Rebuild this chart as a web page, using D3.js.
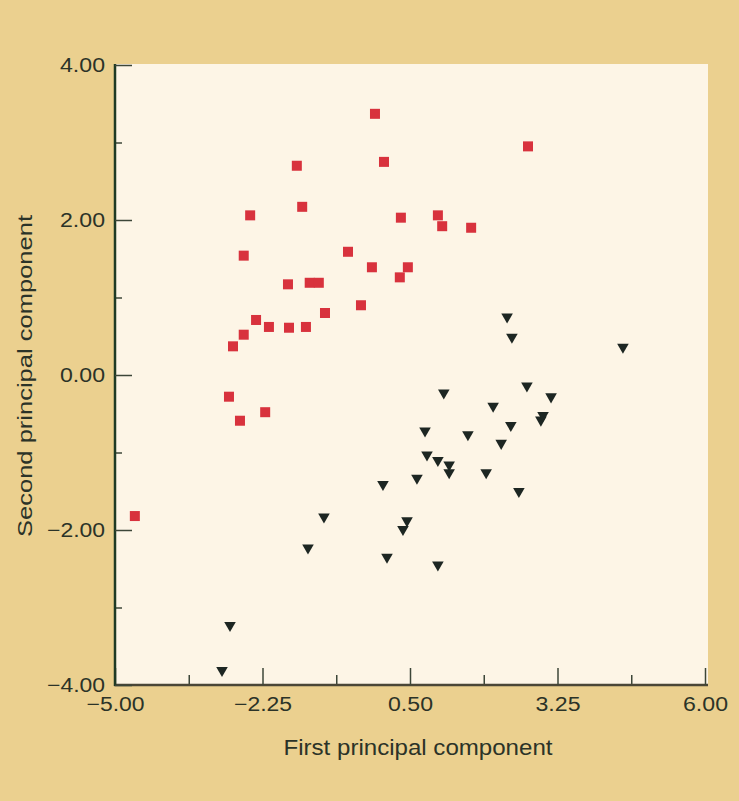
<!DOCTYPE html>
<html>
<head>
<meta charset="utf-8">
<script src="https://cdn.jsdelivr.net/npm/d3@7"></script>
<style>
  body { margin: 0; background: #ebd08f; }
  svg text { font-family: "Liberation Sans", Arial, Helvetica, sans-serif; fill: #2b3328; }
</style>
</head>
<body>
<div id="scatter"></div>
<script>
// Group 1 (red squares)
var squareX = [-4.63, -2.875, -2.80, -2.67, -2.60, -2.60, -2.48, -2.37, -2.20, -2.13,
               -1.775, -1.756, -1.61, -1.51, -1.44, -1.37, -1.20, -1.085, -0.656, -0.414,
               -0.21, -0.153, 0.015, 0.33, 0.31, 0.46, 1.02, 1.10, 1.64, 2.70];
var squareY = [-1.82, -0.28, 0.37, -0.59, 0.52, 1.54, 2.06, 0.71, -0.48, 0.62,
               1.17, 0.61, 2.70, 2.17, 0.62, 1.19, 1.19, 0.80, 1.59, 0.90,
               1.39, 3.37, 2.75, 2.03, 1.26, 1.39, 2.06, 1.92, 1.90, 2.95];

// Group 2 (black triangles)
var triX = [-3.005, -2.856, -1.402, -1.104, -0.004, 0.071, 0.369, 0.444, 0.63, 0.78,
            0.817, 1.02, 1.02, 1.13, 1.23, 1.23, 1.58, 1.92, 2.05, 2.20,
            2.31, 2.38, 2.40, 2.53, 2.68, 2.94, 2.98, 3.13, 4.47];
var triY = [-3.81, -3.23, -2.23, -1.83, -1.41, -2.35, -1.99, -1.88, -1.33, -0.72,
            -1.03, -1.10, -2.45, -0.23, -1.16, -1.26, -0.77, -1.26, -0.40, -0.88,
            0.75, -0.65, 0.49, -1.50, -0.14, -0.58, -0.52, -0.28, 0.36];

// Tick values
var xTicks = [-5, -2.25, 0.5, 3.25, 6];
var xMinorTicks = [-3.625, -0.875, 1.875, 4.625];
var yTicks = [-4, -2, 0, 2, 4];
var yMinorTicks = [-3, -1, 1, 3];

var svgWidth = 739;
var svgHeight = 801;

var svg = d3.select("#scatter")
  .append("svg")
  .attr("width", svgWidth)
  .attr("height", svgHeight);

// background
svg.append("rect")
  .attr("width", svgWidth)
  .attr("height", svgHeight)
  .attr("fill", "#ebd08f");

// Scales
var xScale = d3.scaleLinear().domain([-5, 6]).range([115, 705]);
var yScale = d3.scaleLinear().domain([-4, 4]).range([685, 65]);

// plot area
svg.append("rect")
  .attr("x", 114)
  .attr("y", 64)
  .attr("width", 594)
  .attr("height", 621)
  .attr("fill", "#fdf5e6");

var fmt = d3.format(".2f");

// minor ticks
svg.append("g")
  .attr("transform", "translate(0, 685)")
  .call(d3.axisBottom(xScale).tickValues(xMinorTicks).tickSize(-10).tickFormat(""))
  .call(g => g.select(".domain").remove());

svg.append("g")
  .attr("transform", "translate(115, 0)")
  .call(d3.axisLeft(yScale).tickValues(yMinorTicks).tickSize(-7).tickFormat(""))
  .call(g => g.select(".domain").remove());

// major axes
var xAxis = svg.append("g")
  .attr("class", "xAxis")
  .attr("transform", "translate(0, 685)")
  .call(d3.axisBottom(xScale).tickValues(xTicks).tickSize(-17).tickPadding(12).tickFormat(fmt).tickSizeOuter(0));

var yAxis = svg.append("g")
  .attr("class", "yAxis")
  .attr("transform", "translate(115, 0)")
  .call(d3.axisLeft(yScale).tickValues(yTicks).tickSize(-17).tickPadding(29).tickFormat(fmt).tickSizeOuter(0));

svg.selectAll(".tick line").attr("stroke", "#3c4638").attr("stroke-width", 1.5);
svg.selectAll(".tick text")
  .attr("font-size", "20px")
  .attr("textLength", function() { return this.textContent.length > 4 ? 58 : 45; })
  .attr("lengthAdjust", "spacingAndGlyphs")
  .attr("fill", "#2b3328");
yAxis.selectAll(".tick text").attr("x", -10);

xAxis.select(".domain")
  .attr("stroke", "#4a4636")
  .attr("stroke-width", 2.5)
  .attr("d", "M114,0H708");
yAxis.select(".domain")
  .attr("stroke", "#1f3a24")
  .attr("stroke-width", 2.5)
  .attr("d", "M0,64V686");

// Red squares
var squares = squareX.map((v, i) => ({ x: v, y: squareY[i] }));
svg.append("g").selectAll("rect")
  .data(squares)
  .enter()
  .append("rect")
  .attr("x", d => xScale(d.x) - 5)
  .attr("y", d => yScale(d.y) - 5)
  .attr("width", 10)
  .attr("height", 10)
  .attr("fill", "#d8323d");

// Black triangles
var tris = triX.map((v, i) => ({ x: v, y: triY[i] }));
var tri = d3.symbol().type(d3.symbolTriangle).size(58);
svg.append("g").selectAll("path")
  .data(tris)
  .enter()
  .append("path")
  .attr("d", tri)
  .attr("transform", d => `translate(${xScale(d.x)}, ${yScale(d.y)}) rotate(180)`)
  .attr("fill", "#1d2622");

// Axis labels
svg.append("text")
  .attr("x", 418)
  .attr("y", 755)
  .attr("text-anchor", "middle")
  .attr("font-size", "22px")
  .attr("textLength", 269)
  .attr("lengthAdjust", "spacingAndGlyphs")
  .text("First principal component");

svg.append("text")
  .attr("transform", "translate(32, 376) rotate(-90)")
  .attr("text-anchor", "middle")
  .attr("font-size", "21px")
  .attr("textLength", 322)
  .attr("lengthAdjust", "spacingAndGlyphs")
  .text("Second principal component");
</script>
</body>
</html>
